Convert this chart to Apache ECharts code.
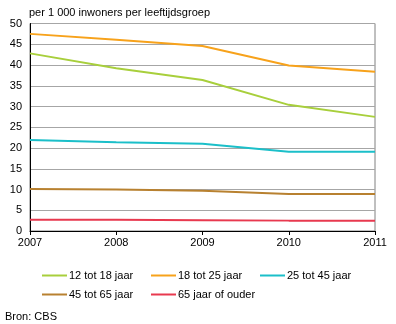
<!DOCTYPE html>
<html><head><meta charset="utf-8">
<script src="https://cdn.jsdelivr.net/npm/echarts@6/dist/echarts.min.js"></script>
<style>html,body{margin:0;padding:0;background:#fff}#c{width:396px;height:324px}</style>
</head><body><div id="c"></div>
<script>
const years = ['2007','2008','2009','2010','2011'];
const s12_18 = [42.8, 39.2, 36.4, 30.4, 27.5];
const s18_25 = [47.5, 46.1, 44.6, 39.9, 38.4];
const s25_45 = [21.9, 21.4, 21.0, 19.1, 19.1];
const s45_65 = [10.1, 10.0, 9.7, 8.9, 8.9];
const s65 = [2.7, 2.7, 2.6, 2.5, 2.5];
const names = ['12 tot 18 jaar','18 tot 25 jaar','25 tot 45 jaar','45 tot 65 jaar','65 jaar of ouder'];
const colors = ['#a8cf3c','#f7a21b','#1bbfc9','#b88130','#e8394f'];
const dataSets = [s12_18, s18_25, s25_45, s45_65, s65];
const font = 'Liberation Sans, Arial, sans-serif';
const legendPos = [[42,270],[151,270],[260,270],[42,289],[151,289]];
const chart = echarts.init(document.getElementById('c'), null, {renderer:'canvas'});
chart.setOption({
  animation:false,
  color: colors,
  title:{text:'per 1 000 inwoners per leeftijdsgroep', left:29, top:7, padding:0,
    textStyle:{fontFamily:font, fontSize:11, fontWeight:'normal', color:'#000'}},
  graphic:[{type:'text', left:5, top:311, style:{text:'Bron: CBS', font:'11px '+font, fill:'#000'}}],
  legend: names.map((n,i)=>({data:[n], left:legendPos[i][0], top:legendPos[i][1], padding:0, icon:'rect', itemWidth:25, itemHeight:2, itemGap:0,
    textStyle:{fontFamily:font, fontSize:11, color:'#000', padding:[0,0,0,-3]}})),
  grid:{left:30, right:21, top:23.5, bottom:93, show:true, borderColor:'#808080', borderWidth:1},
  xAxis:{type:'category', data:years, boundaryGap:false,
    axisLine:{lineStyle:{color:'#000', width:1}},
    axisTick:{show:true, length:4, lineStyle:{color:'#000'}},
    axisLabel:{fontFamily:font, fontSize:11, color:'#000', margin:6},
    splitLine:{show:false}},
  yAxis:{type:'value', min:0, max:50, interval:5,
    axisLine:{show:true, lineStyle:{color:'#000', width:1}},
    axisTick:{show:false},
    axisLabel:{fontFamily:font, fontSize:11, color:'#000', margin:8},
    splitLine:{lineStyle:{color:'#a6a6a6', width:1}}},
  series: dataSets.map((d,i)=>({name:names[i], type:'line', data:d, symbol:'none', lineStyle:{width:2, color:colors[i]}, z:10-i}))
});
</script></body></html>
